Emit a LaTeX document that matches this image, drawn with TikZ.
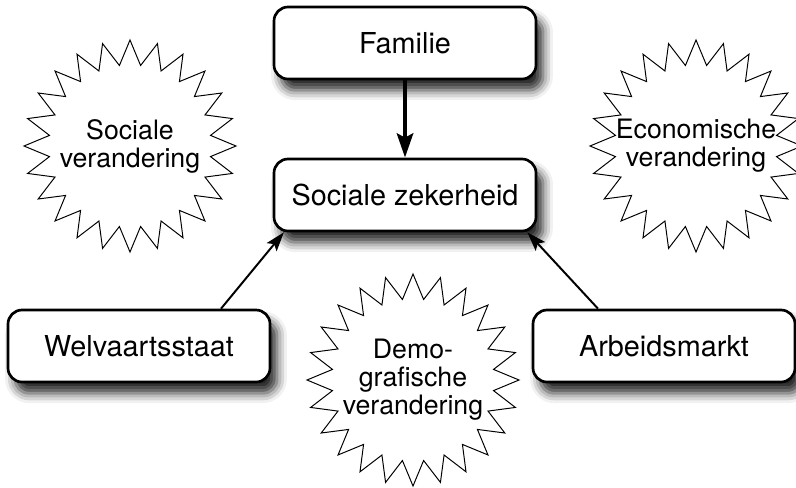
\documentclass[tikz,border=0pt]{standalone}
\usepackage{fontspec}
\setmainfont{TeX Gyre Heros}
\usepackage{tikz}
\usetikzlibrary{arrows.meta,calc}
\usetikzlibrary{positioning,shapes,shadows.blur}
\newcommand{\bl}[1]{\makebox[0pt]{#1}}

\begin{document}
\begin{tikzpicture}
\tikzstyle{box}=[draw,line width=1.9pt,rounded corners=0.35cm,fill=white,minimum width=6.55cm,minimum height=1.8cm,inner sep=0pt,font=\fontsize{20.5}{24}\selectfont,blur shadow={shadow xshift=5pt,shadow yshift=-8pt,shadow blur radius=7pt,shadow opacity=85}]
\tikzstyle{burst}=[draw,line width=0.7pt,starburst,starburst points=24,random starburst=0,starburst point height=0.62cm,minimum size=5.3cm,inner sep=0pt,align=center,font=\fontsize{19}{20}\selectfont]
\useasboundingbox (0,0) rectangle (19.9,-12.175);

\node[box] (fam) at (10.125,-1.075) {Familie};
\node[box] (soc) at (10.125,-4.875) {Sociale zekerheid};
\node[box] (welv) at (3.475,-8.65) {Welvaartsstaat};
\node[box] (arb) at (16.6,-8.65) {Arbeidsmarkt};

\node[burst] (sv) at (3.25,-3.65) {\bl{Sociale}\\\bl{verandering}};
\node[burst] (ev) at (17.4,-3.65) {\bl{Economische}\\\bl{verandering}};
\node[burst] (dv) at (10.325,-9.5) {\bl{Demo-}\\\bl{grafische}\\\bl{verandering}};

\draw[-{Stealth[length=0.6cm,width=0.4cm,inset=0.1cm]},line width=3.5pt] (fam) to (soc);
\draw[-{Stealth[length=0.48cm,width=0.32cm,inset=0.1cm]},line width=1.4pt] ([xshift=2.05cm]welv.north) to ([xshift=0.28cm]soc.south west);
\draw[-{Stealth[length=0.48cm,width=0.32cm,inset=0.1cm]},line width=1.4pt] ([xshift=-1.65cm]arb.north) to ([xshift=-0.25cm]soc.south east);
\end{tikzpicture}
\end{document}
